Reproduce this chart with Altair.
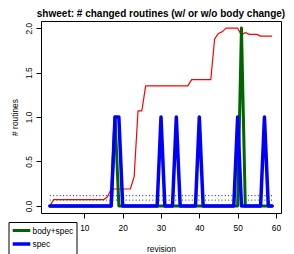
import altair as alt
import pandas as pd

revision = list(range(1, 60))

avg_changed = [0.0,
               0.07, 0.07, 0.07, 0.07, 0.07, 0.07, 0.07, 0.07, 0.07, 0.07, 0.07, 0.07, 0.07, 0.07,
               0.10,
               0.19, 0.19, 0.19, 0.19, 0.19, 0.19,
               0.33,
               1.07, 1.07,
               1.35, 1.35, 1.35, 1.35, 1.35, 1.35, 1.35, 1.35, 1.35, 1.35, 1.35, 1.35,
               1.42, 1.42, 1.42, 1.42, 1.42, 1.42,
               1.88, 1.94, 1.96,
               2.0, 2.0, 2.0, 2.0,
               1.92, 1.95, 1.93, 1.93, 1.93,
               1.91, 1.91, 1.91, 1.91]

body_spec = [0, 0, 0, 0, 0, 0, 0, 0, 0, 0, 0, 0, 0, 0, 0, 0, 0, 1, 0, 0,
             0, 0, 0, 0, 0, 0, 0, 0, 0, 0, 0, 0, 0, 0, 0, 0, 0, 0, 0, 0,
             0, 0, 0, 0, 0, 0, 0, 0, 0, 0, 2, 0, 0, 0, 0, 0, 0, 0, 0]

spec = [0, 0, 0, 0, 0, 0, 0, 0, 0, 0, 0, 0, 0, 0, 0, 0, 0, 1, 1, 0,
        0, 0, 0, 0, 0, 0, 0, 0, 0, 1, 0, 0, 0, 1, 0, 0, 0, 0, 0, 1,
        0, 0, 0, 0, 0, 0, 0, 0, 0, 1, 0, 0, 0, 0, 0, 0, 1, 0, 0]

series_names = ["body+spec", "spec"]
series_colors = ["#006400", "#0000FF"]
mean_values = [0.065, 0.115]

FONT = "Liberation Sans"

red_df = pd.DataFrame({"revision": revision, "value": avg_changed})
long_df = pd.concat([
    pd.DataFrame({"revision": revision, "value": body_spec, "series": series_names[0]}),
    pd.DataFrame({"revision": revision, "value": spec, "series": series_names[1]}),
])
mean_df = pd.DataFrame({"series": series_names, "value": mean_values,
                        "x0": [min(revision)] * 2, "x1": [max(revision)] * 2})

xscale = alt.Scale(domain=[-1.32, 61.32], nice=False, zero=False)
yscale = alt.Scale(domain=[-0.08, 2.08], nice=False, zero=False)

xaxis = alt.Axis(values=[10, 20, 30, 40, 50, 60], title="revision", grid=False, domain=False,
                 tickSize=5, tickColor="black", labelPadding=5, labelFontSize=8.4, labelFont=FONT,
                 labelColor="black", titleFont=FONT, titleFontSize=8.4, titleFontWeight="normal",
                 titleColor="black", titlePadding=13)
yaxis = alt.Axis(values=[0, 0.5, 1, 1.5, 2], format=".1f", title="# routines", grid=False, domain=False,
                 tickSize=5, tickColor="black", labelPadding=3, labelFontSize=8.4, labelFont=FONT,
                 labelColor="black", labelAngle=270, labelAlign="center", labelBaseline="bottom",
                 titleFont=FONT, titleFontSize=8.4, titleFontWeight="normal", titleColor="black",
                 titlePadding=5)

red = alt.Chart(red_df).mark_line(color="#FF0000", strokeWidth=1.2, strokeJoin="round").encode(
    x=alt.X("revision:Q", scale=xscale, axis=xaxis),
    y=alt.Y("value:Q", scale=yscale, axis=yaxis),
)

lines = alt.Chart(long_df).mark_line(strokeJoin="round", strokeCap="round").encode(
    x=alt.X("revision:Q", scale=xscale),
    y=alt.Y("value:Q", scale=yscale),
    color=alt.Color("series:N", scale=alt.Scale(domain=series_names, range=series_colors),
                    legend=alt.Legend(orient="none", legendX=-32.5, legendY=201, title=None,
                                      strokeColor="black", fillColor="white", padding=3,
                                      symbolType="M-2.2,0H2.2", symbolSize=64,
                                      symbolStrokeWidth=3, symbolOffset=4, labelOffset=5,
                                      rowPadding=0, labelFont=FONT, labelFontSize=8.4,
                                      labelColor="black")),
    strokeWidth=alt.StrokeWidth("series:N", scale=alt.Scale(domain=series_names, range=[3, 3.5]),
                                legend=None),
)

means = alt.Chart(mean_df).mark_rule(strokeDash=[1, 2.3], strokeWidth=1).encode(
    x=alt.X("x0:Q", scale=xscale),
    x2="x1:Q",
    y=alt.Y("value:Q", scale=yscale),
    color=alt.Color("series:N", scale=alt.Scale(domain=series_names, range=series_colors), legend=None),
)

chart = alt.layer(red, lines, means).properties(
    width=240, height=192,
    title=alt.TitleParams("shweet: # changed routines (w/ or w/o body change)", font=FONT,
                          fontSize=10, fontWeight="bold", color="black", anchor="middle", offset=2),
    padding={"left": 33, "top": 13, "right": 5, "bottom": 41},
    autosize=alt.AutoSizeParams(type="none"),
).configure_view(stroke="black", strokeWidth=1)

chart.save("out.html", embed_options={"renderer": "svg", "actions": False})
